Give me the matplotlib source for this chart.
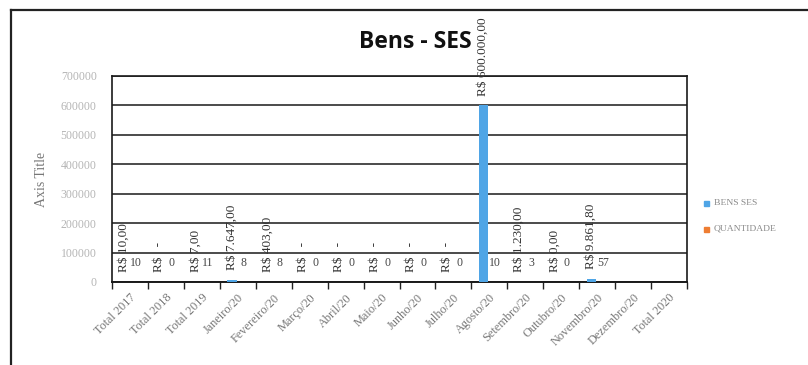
import matplotlib
matplotlib.use("Agg")
import matplotlib.pyplot as plt
from matplotlib.lines import Line2D
from matplotlib.patches import Rectangle
import numpy as np

categories = ["Total 2017", "Total 2018", "Total 2019", "Janeiro/20", "Fevereiro/20",
              "Março/20", "Abril/20", "Maio/20", "Junho/20", "Julho/20", "Agosto/20",
              "Setembro/20", "Outubro/20", "Novembro/20", "Dezembro/20", "Total 2020"]
# None -> shown as "R$ -" ; nan -> blank cell
bens_ses = [10.00, None, 7.00, 7647.00, 403.00, None, None, None, None, None,
            600000.00, 1230.00, 0.00, 9861.80, np.nan, np.nan]
quantidade = [10, 0, 11, 8, 8, 0, 0, 0, 0, 0, 10, 3, 0, 57, np.nan, np.nan]
y_ticks = [0, 100000, 200000, 300000, 400000, 500000, 600000, 700000]

BLUE = "#4FA5E6"
ORANGE = "#EE7D33"
SERIF = ["Liberation Serif", "DejaVu Serif"]


def fmt_brl(v):
    if v is None:
        return "R$   -"
    s = f"{v:,.2f}".replace(",", "X").replace(".", ",").replace("X", ".")
    return "R$ " + s


fig = plt.figure(figsize=(8.08, 3.65), dpi=100)
fig.patch.set_facecolor("white")
ax = fig.add_axes([112 / 808, 1 - 282 / 365, (687 - 112) / 808, (282 - 76) / 365])

x = np.arange(len(categories))
w = 0.27
off = 0.16
bvals = [0 if (v is None or (isinstance(v, float) and np.isnan(v))) else v for v in bens_ses]
qvals = [0 if np.isnan(v) else v for v in quantidade]
ax.bar(x - off, bvals, width=w, color=BLUE, zorder=3)
ax.bar(x + off, qvals, width=w, color=ORANGE, zorder=3)

for i, v in enumerate(bens_ses):
    if v is not None and isinstance(v, float) and np.isnan(v):
        continue
    h = bvals[i]
    ax.annotate(fmt_brl(v), (x[i] - off - 0.02, h), xytext=(0, 7), textcoords="offset points",
                rotation=90, ha="center", va="bottom", fontsize=9.5, family=SERIF,
                color="#333333", zorder=4)
for i, q in enumerate(quantidade):
    if np.isnan(q):
        continue
    ax.annotate(f"{int(q)}", (x[i] + off, qvals[i]), xytext=(0, 9), textcoords="offset points",
                ha="center", va="bottom", fontsize=8.5, family=SERIF, color="#444444", zorder=4)

ax.set_xlim(-0.5, len(categories) - 0.5)
ax.set_ylim(0, 700000)
ax.set_yticks(y_ticks)
ax.set_yticklabels([str(t) for t in y_ticks], fontsize=8.5, color="#b5b5b5", family=SERIF)
ax.tick_params(axis="y", length=0, pad=11)
ax.yaxis.grid(True, color="#1a1a1a", linewidth=1.1, zorder=1)
ax.set_axisbelow(True)

ax.set_xticks(x)
ax.set_xticklabels(categories, rotation=45, ha="right", rotation_mode="anchor",
                   fontsize=8.8, color="#777777", family=SERIF)
ax.tick_params(axis="x", length=0, pad=7)
ax.set_xticks(np.arange(-0.5, len(categories)), minor=True)
ax.tick_params(axis="x", which="minor", length=5, width=1, color="#222222", direction="out")

for s in ax.spines.values():
    s.set_color("#1a1a1a")
    s.set_linewidth(1.2)
ax.spines["bottom"].set_linewidth(1.4)

ax.set_ylabel("Axis Title", fontsize=10, color="#777777", family=SERIF, labelpad=9)

fig.text(415 / 808, 1 - 42 / 365, "Bens - SES", ha="center", va="center",
         fontsize=16.5, fontweight="bold", family=["Open Sans", "DejaVu Sans"], color="#111111")

# Legend
fig.patches.append(Rectangle((704 / 808, 1 - 206 / 365), 5 / 808, 5 / 365,
                             transform=fig.transFigure, color=BLUE, figure=fig))
fig.patches.append(Rectangle((704 / 808, 1 - 232 / 365), 5 / 808, 5 / 365,
                             transform=fig.transFigure, color=ORANGE, figure=fig))
fig.text(714 / 808, 1 - 203 / 365, "BENS SES", ha="left", va="center", fontsize=6.8,
         family=SERIF, color="#8a8a8a")
fig.text(714 / 808, 1 - 229 / 365, "QUANTIDADE", ha="left", va="center", fontsize=6.8,
         family=SERIF, color="#8a8a8a")

# outer chart frame
fig.add_artist(Line2D([11 / 808, 11 / 808], [0, 1 - 10 / 365], transform=fig.transFigure,
                      color="#222222", linewidth=1.6))
fig.add_artist(Line2D([11 / 808, 1], [1 - 10 / 365, 1 - 10 / 365], transform=fig.transFigure,
                      color="#222222", linewidth=1.6))

fig.savefig("out.png", dpi=100)
